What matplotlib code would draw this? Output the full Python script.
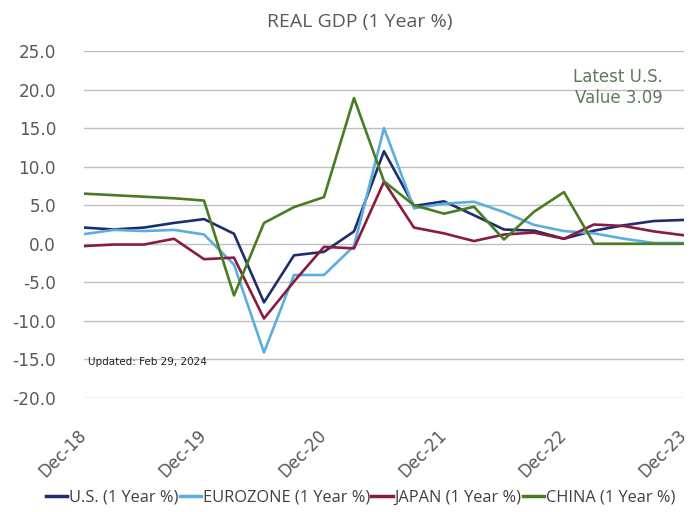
import numpy as np
import matplotlib.pyplot as plt
from matplotlib.transforms import ScaledTranslation

# quarterly periods, Dec-18 .. Dec-23
quarters = ["Dec-18", "Mar-19", "Jun-19", "Sep-19", "Dec-19", "Mar-20", "Jun-20",
            "Sep-20", "Dec-20", "Mar-21", "Jun-21", "Sep-21", "Dec-21", "Mar-22",
            "Jun-22", "Sep-22", "Dec-22", "Mar-23", "Jun-23", "Sep-23", "Dec-23"]

us = [2.1, 1.85, 2.1, 2.7, 3.2, 1.3, -7.6, -1.5, -1.05, 1.6, 12.0,
      4.9, 5.5, 3.7, 1.85, 1.7, 0.65, 1.7, 2.4, 2.95, 3.09]
eurozone = [1.25, 1.8, 1.65, 1.8, 1.2, -2.7, -14.1, -4.05, -4.05, -0.3, 15.0,
            4.6, 5.2, 5.45, 4.1, 2.45, 1.65, 1.35, 0.65, 0.1, 0.1]
japan = [-0.3, -0.1, -0.1, 0.65, -2.0, -1.8, -9.7, -4.9, -0.4, -0.6, 8.05,
         2.1, 1.35, 0.35, 1.2, 1.45, 0.65, 2.5, 2.3, 1.6, 1.1]
china = [6.5, 6.3, 6.1, 5.9, 5.6, -6.7, 2.7, 4.75, 6.05, 18.9, 8.1,
         5.0, 3.9, 4.8, 0.55, 4.15, 6.7, 0.0, 0.0, 0.0, 0.0]

series = [("U.S. (1 Year %)", us, "#1f2d6e"),
          ("EUROZONE (1 Year %)", eurozone, "#5aaee0"),
          ("JAPAN (1 Year %)", japan, "#8b1a3f"),
          ("CHINA (1 Year %)", china, "#4a7c23")]

fig = plt.figure(figsize=(6.92, 5.12), dpi=100)
ax = fig.add_axes([0.1214, 0.2227, 0.867, 0.6777])

x = np.arange(len(quarters))
for name, vals, col in series:
    ax.plot(x, vals, color=col, lw=1.9, label=name)

ax.set_xlim(0, len(quarters) - 1)
ax.set_ylim(-20, 25)
ax.set_yticks(np.arange(-20, 26, 5))
ax.set_yticklabels(["%.1f" % v for v in np.arange(-20, 26, 5)])
ax.grid(axis="y", color="#bfbfbf", lw=1)
ax.set_axisbelow(True)
for s in ax.spines.values():
    s.set_visible(False)

ticks = x[::4]
ax.set_xticks(ticks)
ax.set_xticklabels([quarters[i] for i in ticks], rotation=45, ha="right",
                   rotation_mode="anchor")
ax.tick_params(axis="y", length=0, labelsize=12.2, colors="#595959", pad=20)
ax.tick_params(axis="x", length=0, labelsize=12, colors="#595959", pad=20)
shift = ScaledTranslation(-5 / 72, 0, fig.dpi_scale_trans)
for lbl in ax.get_xticklabels():
    lbl.set_transform(lbl.get_transform() + shift)

fig.text(0.52, 0.958, "REAL GDP (1 Year %)", ha="center", va="center",
         fontsize=14, color="#595959", family="Open Sans")

ax.text(0.965, 0.895, "Latest U.S.\nValue 3.09", transform=ax.transAxes,
        ha="right", va="center", fontsize=12, color="#5e7a5a",
        multialignment="right", linespacing=1.25)
ax.text(0.007, -15.3, "Updated: Feb 29, 2024", transform=ax.get_yaxis_transform(),
        ha="left", va="center", fontsize=7.5, color="#222222")

leg = fig.legend(loc="center", bbox_to_anchor=(0.521, 0.028), ncol=4, frameon=False,
                 handlelength=1.3, handletextpad=0.1, columnspacing=0.1,
                 prop={"family": "Open Sans", "size": 11.8})
for t in leg.get_texts():
    t.set_color("#404040")
for h in leg.get_lines():
    h.set_linewidth(2.5)

fig.savefig("out.png", dpi=100)
